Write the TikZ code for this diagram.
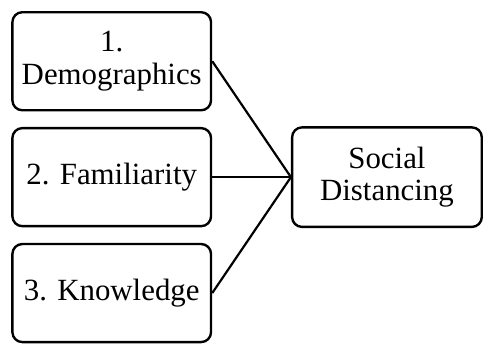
\documentclass[tikz,border=0pt]{standalone}
\usepackage{fontspec}
\setmainfont{Liberation Serif}
\usepackage{tikz}
\usetikzlibrary {
  positioning,
}
\tikzset{
  factor/.style = {
    rectangle,
    draw = black,
    rounded corners = 10pt,
    line width = 2.4pt,
    minimum width = 199.5pt,
    minimum height = 98.5pt,
    inner sep = 2pt,
    align = center,
    font = \fontsize{31}{33}\selectfont
  },
  outcome/.style = {
    factor,
    minimum width = 190.5pt,
    minimum height = 100pt
  },
  link/.style = {
    -,
    line width = 2.2pt
  },
}

\begin{document}
\begin{tikzpicture}
  \node[factor] (demo) {1.\\Demographics};
  \node[factor, below = 15.5pt of demo] (fam) {2. Familiarity};
  \node[factor, below = 15.5pt of fam] (know) {3. Knowledge};
  \node[outcome, right = 79pt of fam] (sd) {Social\\Distancing};
  \draw[link] (demo.east) -- (sd.west);
  \draw[link] (fam.east) -- (sd.west);
  \draw[link] (know.east) -- (sd.west);
  \useasboundingbox ([xshift = -112.2pt, yshift = 61.5pt]demo.center)
    rectangle ++(483pt, -335pt);
\end{tikzpicture}
\end{document}
